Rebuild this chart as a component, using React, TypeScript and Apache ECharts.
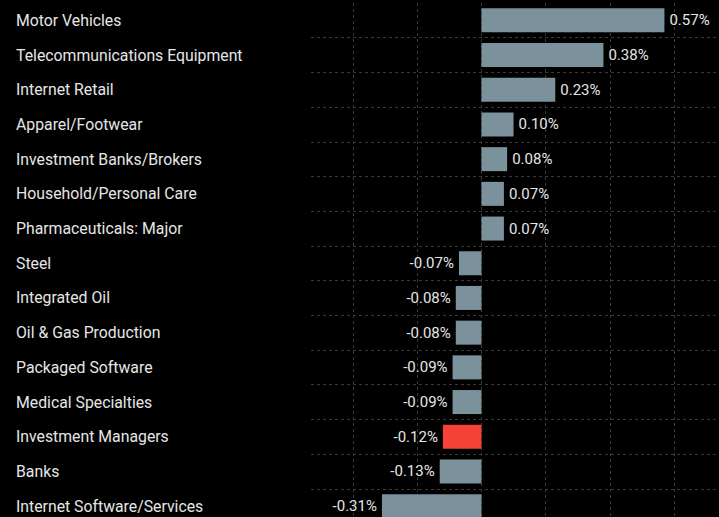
import React, { useEffect, useRef } from "react";
import * as echarts from "echarts";

const categories = [
  "Motor Vehicles",
  "Telecommunications Equipment",
  "Internet Retail",
  "Apparel/Footwear",
  "Investment Banks/Brokers",
  "Household/Personal Care",
  "Pharmaceuticals: Major",
  "Steel",
  "Integrated Oil",
  "Oil & Gas Production",
  "Packaged Software",
  "Medical Specialties",
  "Investment Managers",
  "Banks",
  "Internet Software/Services",
];
const values = [0.57, 0.38, 0.23, 0.1, 0.08, 0.07, 0.07, -0.07, -0.08, -0.08, -0.09, -0.09, -0.12, -0.13, -0.31];
const highlighted = ["Investment Managers"];

export default function App() {
  const ref = useRef<HTMLDivElement>(null);
  useEffect(() => {
    if (!ref.current) return;
    const chart = echarts.init(ref.current, undefined, { renderer: "svg" });
    const font = "Roboto";
    const gridColor = "#3a3a3a";
    chart.setOption({
      animation: false,
      backgroundColor: "#000",
      grid: { left: 311, right: 0, top: 3, height: 520.5, containLabel: false },
      xAxis: {
        type: "value",
        min: -0.531,
        max: 0.74,
        splitNumber: 6,
        minInterval: 0.2,
        maxInterval: 0.2,
        axisLine: { show: false },
        axisTick: { show: false },
        axisLabel: { show: false },
        splitLine: {
          show: true,
          showMinLine: false,
          showMaxLine: false,
          lineStyle: { color: gridColor, type: [3, 3], width: 1 },
        },
      },
      yAxis: {
        type: "category",
        data: categories,
        inverse: true,
        axisLine: { show: false },
        axisTick: { show: false },
        axisLabel: {
          align: "left",
          margin: 295,
          color: "#e6e6e6",
          fontFamily: font,
          fontSize: 15.8,
        },
        splitLine: {
          show: true,
          showMinLine: false,
          showMaxLine: false,
          lineStyle: { color: gridColor, type: [3, 3], width: 1 },
        },
      },
      series: [
        {
          type: "bar",
          barWidth: 24,
          data: values.map((v, i) => ({
            value: v,
            itemStyle: { color: highlighted.includes(categories[i]) ? "#f44336" : "#7b919b" },
            label: { position: v >= 0 ? "right" : "left" },
          })),
          label: {
            show: true,
            distance: 5,
            color: "#e6e6e6",
            fontFamily: font,
            fontSize: 15,
            formatter: (p: any) => p.value.toFixed(2) + "%",
          },
        },
      ],
    });
    return () => chart.dispose();
  }, []);
  return (
    <div
      style={{ position: "absolute", left: 0, top: 0, width: 719, height: 517, overflow: "hidden", background: "#000" }}
    >
      <div ref={ref} style={{ width: 719, height: 530 }} />
    </div>
  );
}
